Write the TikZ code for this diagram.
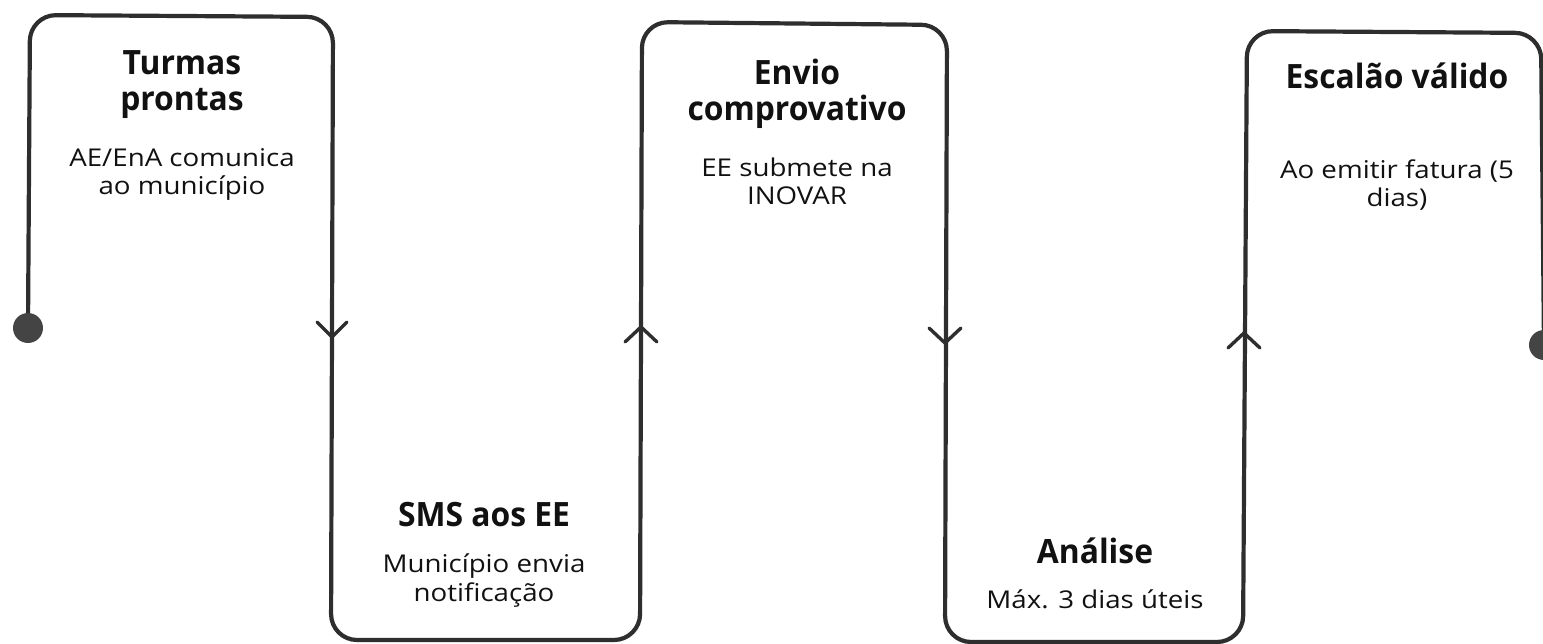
\documentclass[tikz,border=0pt]{standalone}
\usepackage{fontspec}
\setmainfont{Open Sans}
\newfontfamily\ttlf[FakeStretch=0.95]{Open Sans}
\newfontfamily\subf[FakeStretch=1.13]{Open Sans}
\definecolor{ln}{HTML}{2E2E2E}
\definecolor{dotc}{HTML}{444444}
\definecolor{txt}{HTML}{111111}
\tikzset{
  flow/.style={line width=4.2pt, draw=ln, rounded corners=26pt},
  chev/.style={line width=3.4pt, draw=ln, line cap=round, line join=miter},
  dotn/.style={circle, fill=dotc, minimum size=30pt, inner sep=0pt},
  ttl/.style={font=\ttlf\fontsize{33.5}{36.5}\selectfont\bfseries, align=center, text=txt, inner sep=0pt, anchor=base},
  sub/.style={font=\subf\fontsize{24.5}{28.5}\selectfont, align=center, text=txt, inner sep=0pt, anchor=base}
}
\begin{document}
\begin{tikzpicture}[x=1pt,y=-1pt]
\useasboundingbox (0,0) rectangle (1543,644);
% path coordinates
\coordinate (p1) at (30,15);
\coordinate (p2) at (333,17);
\coordinate (p3) at (331,640);
\coordinate (p4) at (640,640);
\coordinate (p5) at (642,22);
\coordinate (p6) at (947,25);
\coordinate (p7) at (945,642);
\coordinate (p8) at (1243,642);
\coordinate (p9) at (1247,31);
\coordinate (p10) at (1541,33);
\coordinate (d1c) at (28,328);
\coordinate (d2c) at (1544,345);
\draw[flow] (d1c) -- (p1) -- (p2) -- (p3) -- (p4) -- (p5) -- (p6) -- (p7) -- (p8) -- (p9) -- (p10) -- (d2c);
\node[dotn] (d1) at (d1c) {};
\node[dotn] (d2) at (d2c) {};
% arrow heads
\coordinate (a1) at (332,337);
\coordinate (a2) at (641,327);
\coordinate (a3) at (945,343);
\coordinate (a4) at (1244,333);
\draw[chev] (a1) ++(-15,-15) -- (a1) -- ++(15,-15);
\draw[chev] (a2) ++(-16,15) -- (a2) -- ++(16,15);
\draw[chev] (a3) ++(-16,-15) -- (a3) -- ++(16,-15);
\draw[chev] (a4) ++(-16,15) -- (a4) -- ++(16,15);
% texts (anchor = baseline of last line)
\node[ttl] (t1) at (182,111) {Turmas\\prontas};
\node[sub] (s1) at (182,195) {AE/EnA comunica\\ao município};
\node[ttl] (t2) at (484,526) {SMS aos EE};
\node[sub] (s2) at (484,601) {Município envia\\notificação};
\node[ttl] (t3) at (797,121) {Envio\\comprovativo};
\node[sub] (s3) at (797,205) {EE submete na\\INOVAR};
\node[ttl] (t4) at (1095,563) {Análise};
\node[sub] (s4) at (1095,608) {Máx. 3 dias úteis};
\node[ttl] (t5) at (1397,89) {Escalão válido};
\node[sub] (s5) at (1397,207) {Ao emitir fatura (5\\dias)};
\end{tikzpicture}
\end{document}
